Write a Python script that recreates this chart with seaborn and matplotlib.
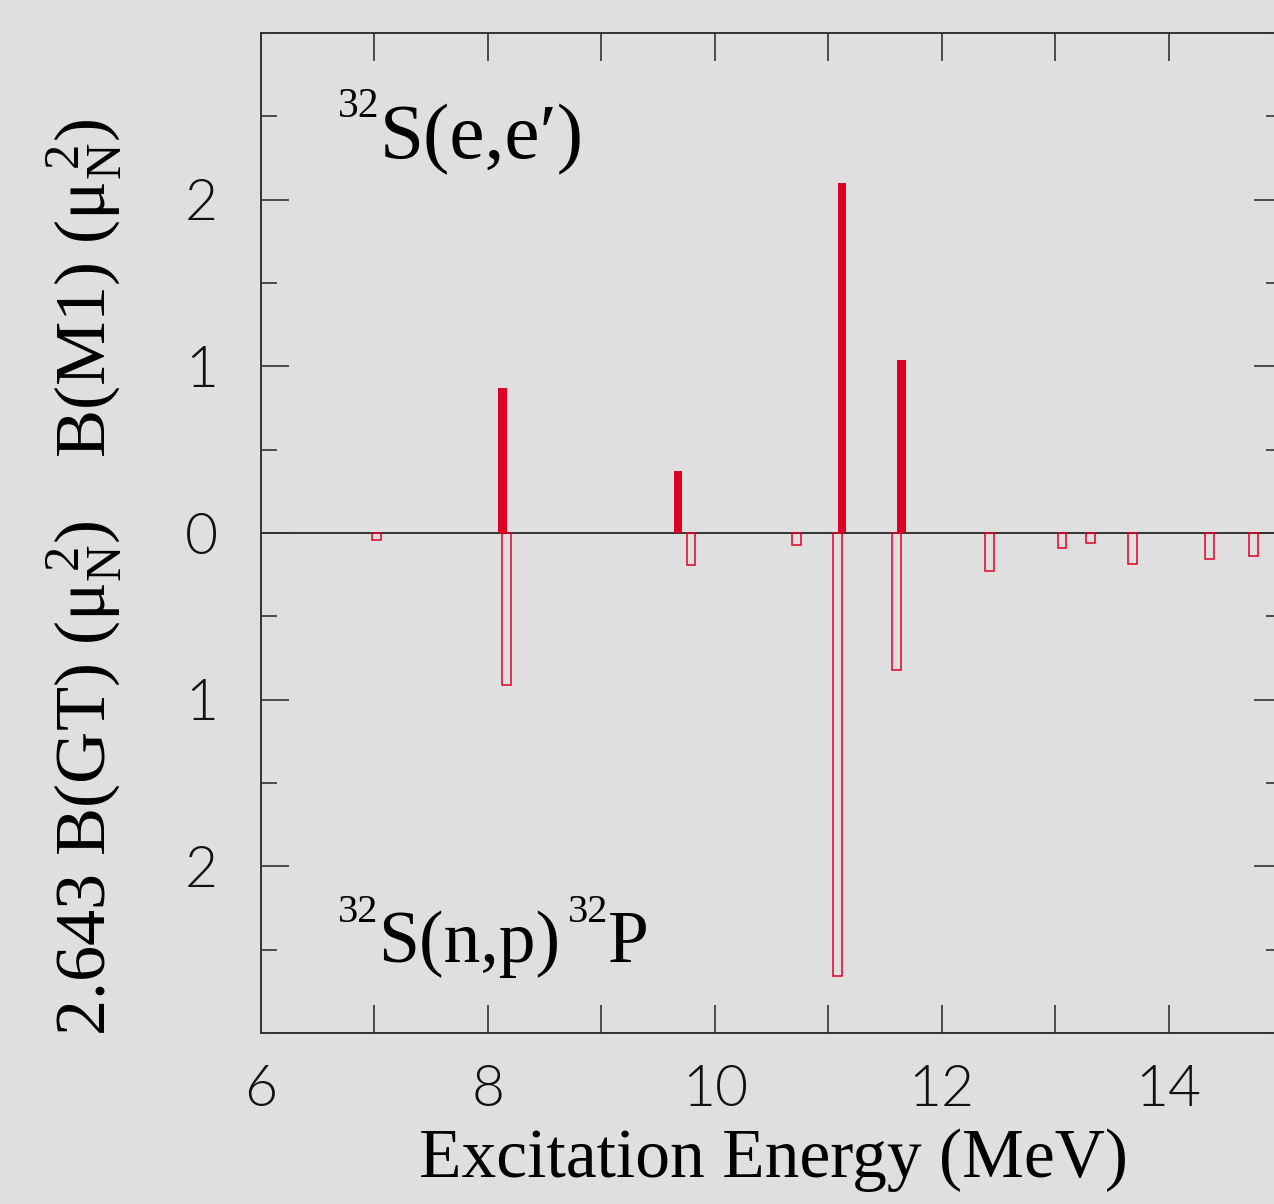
import numpy as np
import pandas as pd
import seaborn as sns
import matplotlib.pyplot as plt
from matplotlib.ticker import MultipleLocator, FuncFormatter

# 32S(e,e') B(M1) strengths (upward, filled)
ee_energy = [8.13, 9.675, 11.12, 11.645]
ee_bm1 = [0.87, 0.37, 2.10, 1.04]

# 32S(n,p)32P scaled 2.643 B(GT) strengths (downward, hollow)
np_energy = [7.02, 8.165, 9.79, 10.72, 11.08, 11.60, 12.42, 13.06, 13.31, 13.68, 14.36, 14.75]
np_bgt = [0.04, 0.91, 0.19, 0.07, 2.66, 0.82, 0.23, 0.09, 0.06, 0.185, 0.155, 0.14]

W, H = 1274, 1204
bg = '#dfdfdf'
red = '#de0024'
dark = '#333333'
bar_w = 0.075  # MeV

sns.set_style("ticks")
plt.rcParams['figure.facecolor'] = bg
plt.rcParams['axes.facecolor'] = bg
plt.rcParams['mathtext.fontset'] = 'custom'
plt.rcParams['mathtext.rm'] = 'Liberation Serif'
plt.rcParams['mathtext.it'] = 'Liberation Serif:italic'
plt.rcParams['font.family'] = ['Liberation Serif', 'DejaVu Serif']

fig = plt.figure(figsize=(W / 100, H / 100), dpi=100)
ax = fig.add_axes([261 / W, 171 / H, 1021 / W, 1000 / H])

ee = pd.DataFrame({'E': ee_energy, 'B': ee_bm1})
gt = pd.DataFrame({'E': np_energy, 'B': [-v for v in np_bgt]})

ax.axhline(0, color=dark, lw=1.4, zorder=1)

w_ee = bar_w / np.diff(sorted(ee_energy)).min()
w_gt = bar_w / np.diff(sorted(np_energy)).min()
sns.barplot(data=ee, x='E', y='B', native_scale=True, width=w_ee,
            color=red, saturation=1, linewidth=0, errorbar=None, ax=ax, zorder=3)
sns.barplot(data=gt, x='E', y='B', native_scale=True, width=w_gt,
            color=red, saturation=1, fill=False, linewidth=1.1, errorbar=None, ax=ax, zorder=3)

ax.set_xlim(6, 15)
ax.set_ylim(-3, 3)
ax.set_xlabel('')
ax.set_ylabel('')

ax.xaxis.set_major_locator(MultipleLocator(2))
ax.xaxis.set_minor_locator(MultipleLocator(1))
ax.set_yticks([-2, -1, 0, 1, 2])
ax.yaxis.set_minor_locator(MultipleLocator(0.5))
ax.yaxis.set_major_formatter(FuncFormatter(lambda v, p: f'{abs(v):.0f}'))

for s in ax.spines.values():
    s.set_color(dark)
    s.set_linewidth(1.4)
    s.set_visible(True)

ax.tick_params(axis='x', which='both', direction='in', top=True, bottom=True,
               length=20, width=1.2, color=dark, pad=23)
ax.tick_params(axis='y', which='major', direction='in', left=True, right=True,
               length=20, width=1.2, color=dark, pad=31)
ax.tick_params(axis='y', which='minor', direction='in', left=True, right=True,
               length=11.5, width=1.2, color=dark)
for lab in ax.get_xticklabels() + ax.get_yticklabels():
    lab.set_family('Lato')
    lab.set_fontweight(300)
    lab.set_fontsize(41)
    lab.set_color('#111111')

renderer = fig.canvas.get_renderer()


def nuclide_text(x_px, base_px, parts, size, sup_size, raise_px, gap):
    # parts: list of (string, is_superscript); placed left to right
    prev_sup = None
    for s, sup in parts:
        if prev_sup is not None and sup and not prev_sup:
            x_px += gap
        y = base_px - (raise_px if sup else 0)
        t = fig.text(x_px / W, 1 - y / H, s, fontsize=sup_size if sup else size,
                     ha='left', va='baseline', color='black')
        bb = t.get_window_extent(renderer)
        x_px = bb.x1
        prev_sup = sup


nuclide_text(338, 158, [('32', True), ('S(e,e′)', False)], 57, 30, 41, 0)
nuclide_text(338, 962, [('32', True), ('S(n,p)', False), ('32', True), ('P', False)],
             53, 29, 40, 7)

fig.text(773 / W, 1 - 1160 / H, 'Excitation Energy (MeV)', fontsize=50,
         ha='center', va='center', color='black')
fig.text(84 / W, 1 - 288 / H, r'B(M1) (μ$_{\rm N}^{\;2}$)', fontsize=52,
         rotation=90, ha='center', va='center', color='black')
fig.text(84 / W, 1 - 778 / H, r'2.643 B(GT) (μ$_{\rm N}^{\;2}$)', fontsize=52,
         rotation=90, ha='center', va='center', color='black')

fig.savefig('out.png', dpi=100, facecolor=bg)
